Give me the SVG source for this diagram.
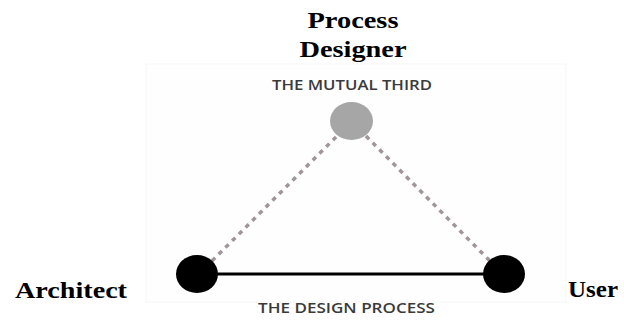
<svg xmlns="http://www.w3.org/2000/svg" width="624" height="324" viewBox="0 0 624 324">
  <style>
    .serif { font-family: "Liberation Serif", "Times New Roman", serif; font-weight: bold; font-size: 24px; fill: #000; }
    .sans { font-family: "Open Sans", "Liberation Sans", sans-serif; font-size: 15px; font-weight: 600; fill: #3a3a3a; }
    .dash { stroke: #a0959a; stroke-width: 3.5; stroke-dasharray: 4.5 5; fill: none; }
    .solid { stroke: #000; stroke-width: 3; fill: none; }
  </style>
  <rect x="0" y="0" width="624" height="324" fill="#ffffff"/>
  <rect x="146" y="64" width="420" height="238" fill="#fefefe" stroke="#f6f6f6" stroke-width="1"/>
  <g id="connectors">
    <line class="dash" x1="212" y1="261" x2="337" y2="136"/>
    <line class="dash" x1="366" y1="136" x2="490" y2="261"/>
    <line class="solid" x1="197" y1="274" x2="504" y2="274"/>
  </g>
  <g id="process-designer">
    <text class="serif" x="353" y="28" text-anchor="middle" textLength="91" lengthAdjust="spacingAndGlyphs">Process</text>
    <text class="serif" x="353" y="57" text-anchor="middle" textLength="107" lengthAdjust="spacingAndGlyphs">Designer</text>
    <text class="sans" x="352" y="90" text-anchor="middle" textLength="160" lengthAdjust="spacingAndGlyphs">THE MUTUAL THIRD</text>
    <ellipse cx="351.5" cy="121" rx="21.5" ry="19" fill="#a6a6a6"/>
  </g>
  <g id="architect">
    <ellipse cx="197" cy="274" rx="21" ry="19" fill="#000"/>
    <text class="serif" x="15" y="298" textLength="112" lengthAdjust="spacingAndGlyphs">Architect</text>
  </g>
  <g id="user">
    <ellipse cx="504" cy="274" rx="21" ry="19" fill="#000"/>
    <text class="serif" x="568" y="297" textLength="50" lengthAdjust="spacingAndGlyphs">User</text>
  </g>
  <g id="design-process">
    <text class="sans" x="346.5" y="313" text-anchor="middle" textLength="177" lengthAdjust="spacingAndGlyphs">THE DESIGN PROCESS</text>
  </g>
</svg>
